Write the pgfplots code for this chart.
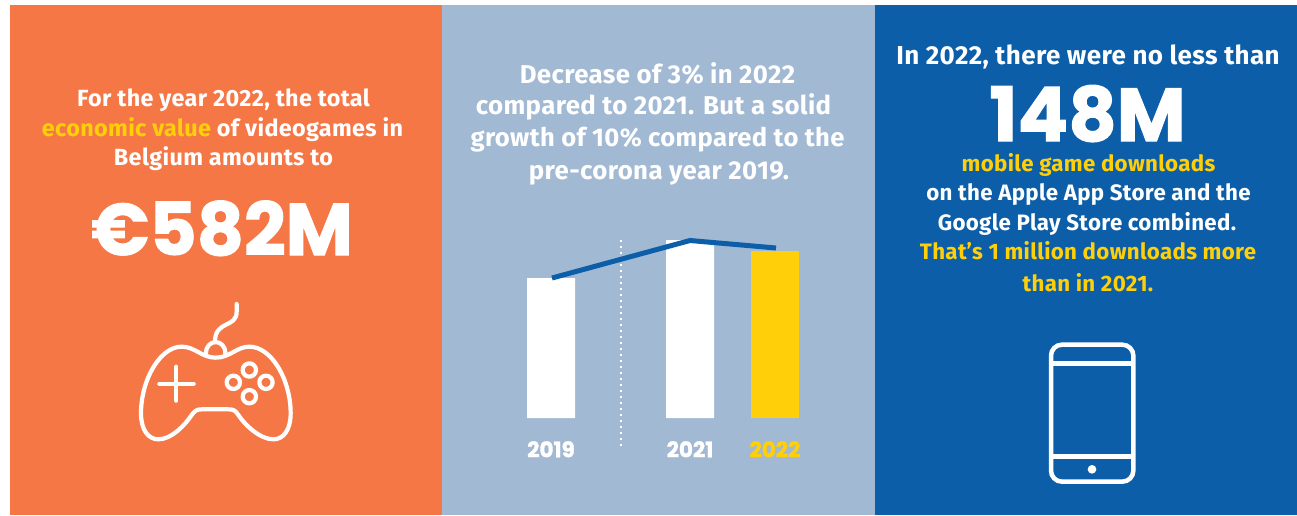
\documentclass[border=0pt]{standalone}
\usepackage{pgfplots}
\pgfplotsset{compat=1.18}
\usepackage{fontspec}
\setmainfont{Fira Sans}[LetterSpace=1.5]
\newfontfamily\bigfont{Poppins}[BoldFont={* Bold},FakeBold=1.5]
\definecolor{panelorange}{HTML}{F67746}
\definecolor{panelgrey}{HTML}{A1B9D3}
\definecolor{panelblue}{HTML}{0C5EA9}
\definecolor{accent}{HTML}{FFCF0A}
% one centred line of panel text: [colour]{position}{size}{text}
\newcommand{\body}[4][white]{\node[text=#1,font=\fontsize{#3}{#3}\selectfont\bfseries,inner sep=0pt,anchor=base] at (#2) {#4};}
\begin{document}
\begin{tikzpicture}[x=1pt,y=-1pt]
\path[use as bounding box] (0,0) rectangle (1297,515);
\fill[white] (0,0) rectangle (1297,515);
\fill[panelorange] (10,5) rectangle (442,515);
\fill[panelgrey] (442,5) rectangle (875,515);
\fill[panelblue] (875,5) rectangle (1297,515);

% left panel text
\body{223.5,106.5}{23.4}{For the year 2022, the total}
\body{222.5,136}{23.4}{\textcolor{accent}{economic value} of videogames in}
\body{223.5,165.5}{23.4}{Belgium amounts to}
\node[text=white,inner sep=0pt,anchor=base] at (222,255) {\fontsize{73}{73}\selectfont\bigfont\bfseries €582M};

% middle panel text
\body{657.5,83.5}{25.8}{Decrease of 3\% in 2022}
\body{653.5,114.5}{25.8}{compared to 2021. But a solid}
\body{657.5,146}{25.6}{growth of 10\% compared to the}
\body{659,179.5}{25.8}{pre-corona year 2019.}

% right panel text
\body{1088,64}{26}{In 2022, there were no less than}
\node[text=white,inner sep=0pt,anchor=base] at (1087.5,141) {\fontsize{75}{75}\selectfont\bigfont\bfseries 148M};
\body[accent]{1088.5,171.5}{22.3}{mobile game downloads}
\body{1088.5,200.5}{22.3}{on the Apple App Store and the}
\body{1087,230}{22.3}{Google Play Store combined.}
\body[accent]{1088,259.5}{22.3}{That’s 1 million downloads more}
\body[accent]{1088,291.5}{22.3}{than in 2021.}

% controller icon
\begin{scope}[x=0.33333pt,y=-0.33333pt,draw=white,line width=4.2pt,line cap=round,line join=round]
\draw (710,912) -- (710,935) .. controls (710,985) and (645,960) .. (645,1025);
\draw (618,1060) .. controls (618,1015) and (676,1015) .. (676,1060);
\draw (647,1073) .. controls (690,1073) and (710,1040) .. (748,1040)
  .. controls (815,1040) and (872,1140) .. (872,1240)
  .. controls (872,1290) and (850,1318) .. (820,1318)
  .. controls (780,1318) and (735,1275) .. (715,1245)
  .. controls (705,1230) and (700,1228) .. (685,1228)
  -- (605,1228)
  .. controls (590,1228) and (585,1232) .. (575,1245)
  .. controls (555,1275) and (515,1318) .. (475,1318)
  .. controls (445,1318) and (423,1290) .. (423,1240)
  .. controls (423,1140) and (480,1040) .. (545,1040)
  .. controls (585,1040) and (605,1073) .. (647,1073) -- cycle;
\draw (478,1151) -- (581,1151);
\draw (529,1100) -- (529,1202);
\draw (748,1110) circle[radius=20];
\draw (798,1147) circle[radius=20];
\draw (700,1147) circle[radius=20];
\draw (748,1190) circle[radius=20];
\end{scope}

% phone icon
\begin{scope}[shift={(870pt,0pt)},x=0.33333pt,y=-0.33333pt,draw=white,line width=4.5pt]
\draw[rounded corners=11pt] (543,1034) rectangle (790,1445);
\draw (543,1090) -- (790,1090);
\draw (543,1370) -- (790,1370);
\fill[white] (666,1408) circle[radius=13];
\end{scope}

% yearly value bars with the trend line over them
\begin{axis}[
  at={(442pt,-418pt)},anchor=south west,
  scale only axis,width=433pt,height=178pt,
  xmin=442,xmax=875,ymin=0,ymax=178,
  clip=false,
  axis line style={draw=none},
  tick style={draw=none},
  ytick=\empty,
  xtick={551,690,775},
  xticklabels={2019,2021,\textcolor{accent}{2022}},
  xticklabel style={text=white,inner sep=0pt,anchor=base,yshift=-35pt,
    font=\fontsize{21.5}{21.5}\selectfont\bigfont\bfseries},
  ybar,bar width=48pt,bar shift=0pt,
]
\addplot[draw=none,fill=white] coordinates {(551,140) (690,178)};
\addplot[draw=none,fill=accent] coordinates {(775,167)};
\addplot[sharp plot,white,line width=2.4pt,dash pattern=on 2.4pt off 3.6pt,forget plot] coordinates {(621,-28) (621,178)};
\addplot[sharp plot,panelblue,line width=5pt] coordinates {(552,140) (690,177.5) (776,170)};
\end{axis}
\end{tikzpicture}
\end{document}
